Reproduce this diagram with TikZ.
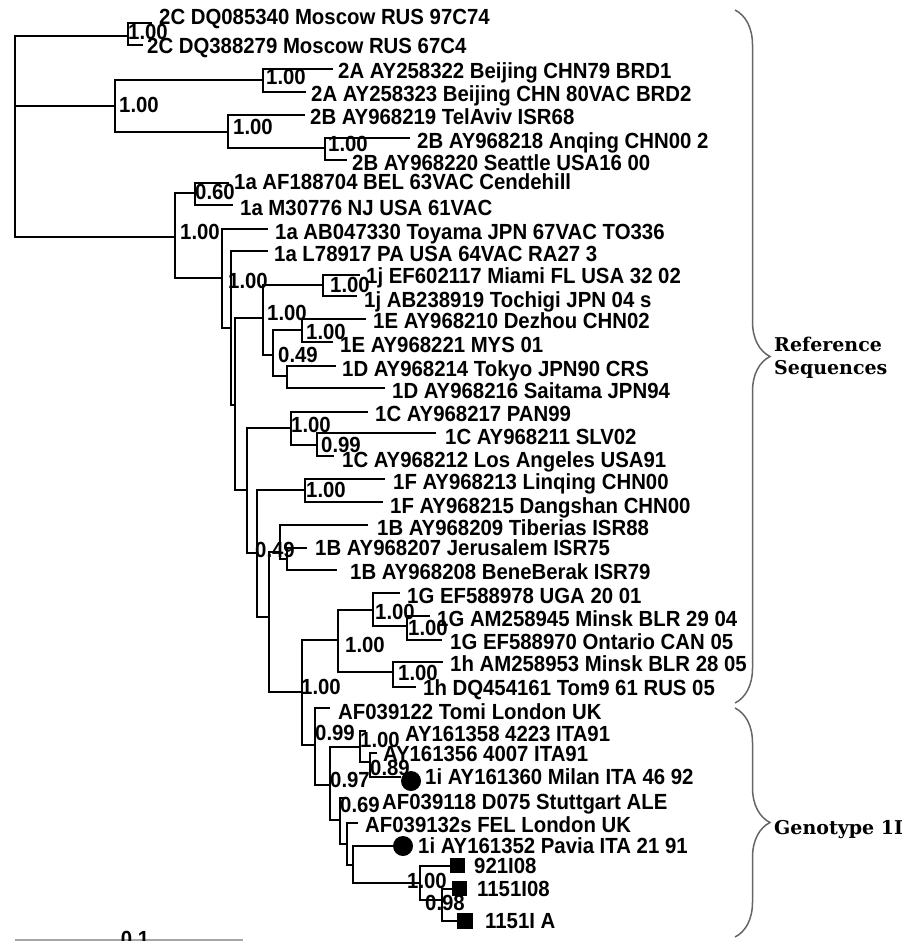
\documentclass[tikz,border=0pt]{standalone}
\usepackage{fontspec}
\newfontfamily\labfont{Liberation Sans}[FakeStretch=0.93]
\newfontfamily\grpfont{DejaVu Serif}
\usetikzlibrary{decorations.pathreplacing}
\begin{document}
\begin{tikzpicture}[x=1pt,y=-1pt,
 branch/.style={line width=1.7pt},
 lab/.style={anchor=base west, inner sep=0pt, font=\labfont\bfseries\fontsize{21.9}{24}\selectfont},
 bs/.style={anchor=base, inner sep=0pt, font=\labfont\bfseries\fontsize{21.9}{24}\selectfont},
 dot/.style={circle, fill=black, inner sep=0pt, minimum size=20pt},
 sq/.style={rectangle, fill=black, inner sep=0pt, minimum size=15pt},
 bracestyle/.style={decorate, decoration={brace, amplitude=35pt}, line width=1.5pt, draw=black!60},
 grp/.style={anchor=base west, inner sep=0pt, font=\grpfont\bfseries\fontsize{19}{22}\selectfont}]
\useasboundingbox (0,0) rectangle (909,941);
\fill[white] (0,0) rectangle (909,941);
\clip (0,0) rectangle (909,941);

% internal nodes
\coordinate (root) at (15,106);
\coordinate (n2C) at (128,36);
\coordinate (n2AB) at (115,106);
\coordinate (n2A) at (263,80);
\coordinate (n2B) at (228,132);
\coordinate (n2Bb) at (325,148);
\coordinate (n1) at (175,237);
\coordinate (n1a) at (195,193);
\coordinate (nDa) at (222,278);
\coordinate (nF) at (231,328);
\coordinate (nE) at (235,405);
\coordinate (nA) at (263,318);
\coordinate (n1j) at (323,285);
\coordinate (nB) at (273,355);
\coordinate (nC) at (302,330);
\coordinate (nDd) at (287,376);
\coordinate (nG) at (247,490);
\coordinate (n1C) at (291,428);
\coordinate (n1Cb) at (317,445);
\coordinate (nH) at (257,553);
\coordinate (n1F) at (305,490);
\coordinate (nI) at (269,617);
\coordinate (nK) at (280,552);
\coordinate (nL) at (287,559);
\coordinate (nJ) at (302,692);
\coordinate (nM) at (338,640);
\coordinate (nN) at (373,610);
\coordinate (nO) at (407,626);
\coordinate (nP) at (393,672);
\coordinate (nQ) at (315,745);
\coordinate (nR) at (330,785);
\coordinate (nS) at (360,747);
\coordinate (nT) at (370,762);
\coordinate (nU) at (340,820);
\coordinate (nV) at (347,844);
\coordinate (nW) at (353,865);
\coordinate (nX) at (420,883);
\coordinate (nY) at (442,900);

% tips
\coordinate (t1) at (152,23);
\coordinate (t2) at (143,45);
\coordinate (t3) at (333,69);
\coordinate (t4) at (306,92);
\coordinate (t5) at (305,115);
\coordinate (t6) at (410,138);
\coordinate (t7) at (347,160);
\coordinate (t8) at (229,183);
\coordinate (t9) at (233,205);
\coordinate (t10) at (268,229);
\coordinate (t11) at (268,251);
\coordinate (t12) at (360,275);
\coordinate (t13) at (357,296);
\coordinate (t14) at (366,319);
\coordinate (t15) at (333,342);
\coordinate (t16) at (336,366);
\coordinate (t17) at (385,388);
\coordinate (t18) at (368,412);
\coordinate (t19) at (436,433);
\coordinate (t20) at (334,456);
\coordinate (t21) at (385,479);
\coordinate (t22) at (383,502);
\coordinate (t23) at (368,525);
\coordinate (t24) at (307,548);
\coordinate (t25) at (337,570);
\coordinate (t26) at (400,593);
\coordinate (t27) at (430,616);
\coordinate (t28) at (442,640);
\coordinate (t29) at (443,662);
\coordinate (t30) at (416,687);
\coordinate (t31) at (330,708);
\coordinate (t32) at (366,731);
\coordinate (t33) at (377,753);
\coordinate (t34) at (401,777);
\coordinate (t35) at (346,798);
\coordinate (t36) at (358,823);
\coordinate (t37) at (393,846);
\coordinate (t38) at (450,866);
\coordinate (t39) at (452,889);
\coordinate (t40) at (457,921);

% branches
\draw[branch] (root) |- (n2C) (root) |- (n2AB) (root) |- (n1);
\draw[branch] (n2C) |- (t1) (n2C) |- (t2);
\draw[branch] (n2AB) |- (n2A) (n2AB) |- (n2B);
\draw[branch] (n2A) |- (t3) (n2A) |- (t4);
\draw[branch] (n2B) |- (t5) (n2B) |- (n2Bb);
\draw[branch] (n2Bb) |- (t6) (n2Bb) |- (t7);
\draw[branch] (n1) |- (n1a) (n1) |- (nDa);
\draw[branch] (n1a) |- (t8) (n1a) |- (t9);
\draw[branch] (nDa) |- (t10) (nDa) |- (nF);
\draw[branch] (nF) |- (t11) (nF) |- (nE);
\draw[branch] (nE) |- (nA) (nE) |- (nG);
\draw[branch] (nA) |- (n1j) (nA) |- (nB);
\draw[branch] (n1j) |- (t12) (n1j) |- (t13);
\draw[branch] (nB) |- (nC) (nB) |- (nDd);
\draw[branch] (nC) |- (t14) (nC) |- (t15);
\draw[branch] (nDd) |- (t16) (nDd) |- (t17);
\draw[branch] (nG) |- (n1C) (nG) |- (nH);
\draw[branch] (n1C) |- (t18) (n1C) |- (n1Cb);
\draw[branch] (n1Cb) |- (t19) (n1Cb) |- (t20);
\draw[branch] (nH) |- (n1F) (nH) |- (nI);
\draw[branch] (n1F) |- (t21) (n1F) |- (t22);
\draw[branch] (nI) |- (nK) (nI) |- (nJ);
\draw[branch] (nK) |- (t23) (nK) |- (nL);
\draw[branch] (nL) |- (t24) (nL) |- (t25);
\draw[branch] (nJ) |- (nM) (nJ) |- (nQ);
\draw[branch] (nM) |- (nN) (nM) |- (nP);
\draw[branch] (nN) |- (t26) (nN) |- (nO);
\draw[branch] (nO) |- (t27) (nO) |- (t28);
\draw[branch] (nP) |- (t29) (nP) |- (t30);
\draw[branch] (nQ) |- (t31) (nQ) |- (nR);
\draw[branch] (nR) |- (nS) (nR) |- (nU);
\draw[branch] (nS) |- (t32) (nS) |- (nT);
\draw[branch] (nT) |- (t33) (nT) |- (t34);
\draw[branch] (nU) |- (t35) (nU) |- (nV);
\draw[branch] (nV) |- (t36) (nV) |- (nW);
\draw[branch] (nW) |- (t37) (nW) |- (nX);
\draw[branch] (nX) |- (t38) (nX) |- (nY);
\draw[branch] (nY) |- (t39) (nY) |- (t40);

% markers
\node[dot] (c1) at (411,781) {};
\node[dot] (c2) at (403,846) {};
\node[sq] (s1) at (457,865) {};
\node[sq] (s2) at (459,888) {};
\node[sq, minimum size=16pt] (s3) at (465,921) {};

% bootstrap values
\node[bs] (b1) at (148,40) {1.00};
\node[bs] (b2) at (139,113) {1.00};
\node[bs] (b3) at (286,85) {1.00};
\node[bs] (b4) at (253,135) {1.00};
\node[bs] (b5) at (348,152) {1.00};
\node[bs] (b6) at (215,200) {0.60};
\node[bs] (b7) at (200,239) {1.00};
\node[bs] (b8) at (248,288) {1.00};
\node[bs] (b9) at (350,292) {1.00};
\node[bs] (b10) at (287,320) {1.00};
\node[bs] (b11) at (326,339) {1.00};
\node[bs] (b12) at (298,362) {0.49};
\node[bs] (b13) at (311,432) {1.00};
\node[bs] (b14) at (341,452) {0.99};
\node[bs] (b15) at (326,497) {1.00};
\node[bs] (b16) at (275,557) {0.49};
\node[bs] (b17) at (395,619) {1.00};
\node[bs] (b18) at (428,635) {1.00};
\node[bs] (b19) at (365,652) {1.00};
\node[bs] (b20) at (418,680) {1.00};
\node[bs] (b21) at (321,694) {1.00};
\node[bs] (b22) at (335,740) {0.99};
\node[bs] (b23) at (380,747) {1.00};
\node[bs] (b24) at (390,775) {0.89};
\node[bs] (b25) at (350,787) {0.97};
\node[bs] (b26) at (360,812) {0.69};
\node[bs] (b27) at (427,888) {1.00};
\node[bs] (b28) at (445,910) {0.98};

% tip labels
\node[lab] (L1) at (159,25) {2C DQ085340 Moscow RUS 97C74};
\node[lab] (L2) at (147,54) {2C DQ388279 Moscow RUS 67C4};
\node[lab] (L3) at (338,79) {2A AY258322 Beijing CHN79 BRD1};
\node[lab] (L4) at (311,102) {2A AY258323 Beijing CHN 80VAC BRD2};
\node[lab] (L5) at (310,125) {2B AY968219 TelAviv ISR68};
\node[lab] (L6) at (417,149) {2B AY968218 Anqing CHN00 2};
\node[lab] (L7) at (352,171) {2B AY968220 Seattle USA16 00};
\node[lab] (L8) at (234,190) {1a AF188704 BEL 63VAC Cendehill};
\node[lab] (L9) at (240,215) {1a M30776 NJ USA 61VAC};
\node[lab] (L10) at (275,239) {1a AB047330 Toyama JPN 67VAC TO336};
\node[lab] (L11) at (274,261) {1a L78917 PA USA 64VAC RA27 3};
\node[lab] (L12) at (366,283) {1j EF602117 Miami FL USA 32 02};
\node[lab] (L13) at (364,307) {1j AB238919 Tochigi JPN 04 s};
\node[lab] (L14) at (373,328) {1E AY968210 Dezhou CHN02};
\node[lab] (L15) at (340,352) {1E AY968221 MYS 01};
\node[lab] (L16) at (342,376) {1D AY968214 Tokyo JPN90 CRS};
\node[lab] (L17) at (392,398) {1D AY968216 Saitama JPN94};
\node[lab] (L18) at (375,421) {1C AY968217 PAN99};
\node[lab] (L19) at (445,444) {1C AY968211 SLV02};
\node[lab] (L20) at (342,467) {1C AY968212 Los Angeles USA91};
\node[lab] (L21) at (393,489) {1F AY968213 Linqing CHN00};
\node[lab] (L22) at (390,513) {1F AY968215 Dangshan CHN00};
\node[lab] (L23) at (377,535) {1B AY968209 Tiberias ISR88};
\node[lab] (L24) at (315,555) {1B AY968207 Jerusalem ISR75};
\node[lab] (L25) at (350,579) {1B AY968208 BeneBerak ISR79};
\node[lab] (L26) at (407,603) {1G EF588978 UGA 20 01};
\node[lab] (L27) at (437,626) {1G AM258945 Minsk BLR 29 04};
\node[lab] (L28) at (450,649) {1G EF588970 Ontario CAN 05};
\node[lab] (L29) at (450,671) {1h AM258953 Minsk BLR 28 05};
\node[lab] (L30) at (423,695) {1h DQ454161 Tom9 61 RUS 05};
\node[lab] (L31) at (338,719) {AF039122 Tomi London UK};
\node[lab] (L32) at (405,741) {AY161358 4223 ITA91};
\node[lab] (L33) at (383,761) {AY161356 4007 ITA91};
\node[lab] (L34) at (425,784) {1i AY161360 Milan ITA 46 92};
\node[lab] (L35) at (382,809) {AF039118 D075 Stuttgart ALE};
\node[lab] (L36) at (365,832) {AF039132s FEL London UK};
\node[lab] (L37) at (418,853) {1i AY161352 Pavia ITA 21 91};
\node[lab] (L38) at (474,873) {921I08};
\node[lab] (L39) at (477,896) {1151I08};
\node[lab] (L40) at (485,928) {1151I A};

% group braces
\coordinate (rbA) at (735,10);
\coordinate (rbB) at (735,703);
\coordinate (gbA) at (735,708);
\coordinate (gbB) at (735,937);
\draw[bracestyle] (rbA) -- (rbB);
\draw[bracestyle] (gbA) -- (gbB);
\node[grp] (g1) at (774,351) {Reference};
\node[grp] (g2) at (774,374) {Sequences};
\node[grp] (g3) at (774,834) {Genotype 1I};

% scale bar
\coordinate (sbA) at (15,940);
\coordinate (sbB) at (243,940);
\draw[line width=2pt, draw=black!35] (sbA) -- (sbB);
\node[bs] (sbl) at (135,946) {0.1};
\end{tikzpicture}
\end{document}
